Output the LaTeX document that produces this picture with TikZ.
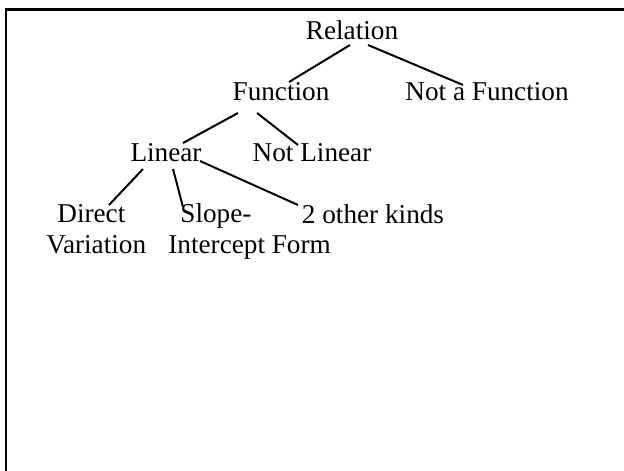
\documentclass[tikz,border=0pt]{standalone}
\usepackage{fontspec}
\setmainfont{Liberation Serif}
\begin{document}
\begin{tikzpicture}[x=0.5pt,y=-0.5pt,
    every node/.style={inner sep=0pt,anchor=base,font=\fontsize{13.6}{15.2}\selectfont},
    twoline/.style={anchor=base west,align=left},
    branch/.style={line width=1pt}]
    \useasboundingbox (0,0) rectangle (624,470);
    % Frame (runs off the right and bottom)
    \draw[line width=1.3pt] (6,600) -- (6,9.5) -- (700,9.5);

    % Top level
    \node (rel) at (352,40) {Relation};
    \node (fun) at (281,101) {Function};
    \node (notf) at (487,101) {Not a Function};
    % Functions
    \node (lin) at (166,162) {Linear};
    \node (notl) at (312,162) {Not Linear};
    % Linear kinds (base = last line)
    \node[twoline] (dir) at (46,253) {\hspace*{5.5pt}Direct\\Variation};
    \node[twoline] (slope) at (168,253) {\hspace*{6pt}Slope-\\Intercept Form};
    \node (other) at (373,223) {2 other kinds};

    \draw[branch] ([shift={(-2,5)}]rel.base) -- ([shift={(8,-19)}]fun.base);
    \draw[branch] ([shift={(16,5)}]rel.base) -- ([shift={(-24,-16)}]notf.base);
    \draw[branch] ([shift={(-43,12)}]fun.base) -- ([shift={(17,-19)}]lin.base);
    \draw[branch] ([shift={(-24,12)}]fun.base) -- ([shift={(-14,-17)}]notl.base);
    \draw[branch] ([shift={(-23,7)}]lin.base) -- ([shift={(63,-48)}]dir.base west);
    \draw[branch] ([shift={(7,7)}]lin.base) -- ([shift={(15,-46)}]slope.base west);
    \draw[branch] ([shift={(34,-1)}]lin.base) -- ([shift={(-75,-18)}]other.base);
\end{tikzpicture}
\end{document}
